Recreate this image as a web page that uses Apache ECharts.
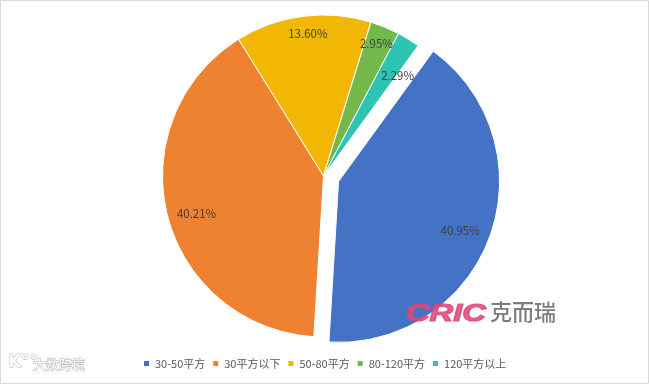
<!DOCTYPE html>
<html><head><meta charset="utf-8">
<script src="https://cdn.jsdelivr.net/npm/echarts@6/dist/echarts.min.js"></script>
<style>html,body{margin:0;padding:0;background:#fff}#c{width:649px;height:384px}</style>
</head><body><div id="c"></div>
<script>
const categories = ['30-50平方','30平方以下','50-80平方','80-120平方','120平方以上'];
const shares = [40.95,40.21,13.60,2.95,2.29];
const colors = ['#4472C4','#EF8230','#F2B705','#72B84B','#2EC4B4'];
const labelShift = [[43,21],[-46,17],[-5,-60],[21,-55],[30,-29]];
const chart = echarts.init(document.getElementById('c'),null,{renderer:'canvas'});
const font = '"Noto Sans CJK SC","Open Sans",sans-serif';
chart.setOption({
  animation:false,
  color:colors,
  legend:{left:137,top:353,itemWidth:7,itemHeight:7,itemGap:6,icon:'rect',
    textStyle:{color:'#595959',fontSize:11,fontFamily:font},
    data:categories},
  graphic:[
    {type:'rect',z:-1,shape:{x:0.5,y:0.5,width:648,height:383},style:{fill:'#fff',stroke:'#d9d9d9',lineWidth:1}},
    {type:'text',x:406,y:303,scaleX:1.42,z:10,style:{text:'CRIC',fill:'rgba(222,70,120,0.85)',stroke:'rgba(222,70,120,0.85)',lineWidth:1.2,font:'italic 900 23px "Liberation Sans"'}},
    {type:'text',x:490,y:301,z:10,style:{text:'克而瑞',fill:'rgba(110,110,110,0.9)',font:'500 22px "Noto Sans CJK SC"'}},
    {type:'text',x:33,y:358,z:10,style:{text:'大数跨境',fill:'#fff',stroke:'#b5b5b5',lineWidth:1,font:'13px "Noto Sans CJK SC"'}},
    {type:'text',x:8,y:354,z:10,style:{text:'K°°',fill:'#fff',stroke:'#b5b5b5',lineWidth:1,font:'bold 17px "DejaVu Sans"'}}
  ],
  series:[{
    type:'pie',center:[323.5,176],radius:[0,161],startAngle:54,clockwise:true,
    selectedMode:'single',selectedOffset:16,avoidLabelOverlap:false,
    itemStyle:{borderColor:'#fff',borderWidth:1},
    label:{show:true,position:'inside',formatter:p=>p.value.toFixed(2)+'%',color:'#404040',fontSize:11.5,fontFamily:font},
    labelLine:{show:false},
    labelLayout:p=>({dx:labelShift[p.dataIndex][0],dy:labelShift[p.dataIndex][1]}),
    emphasis:{disabled:true},
    data:categories.map((n,i)=>({name:n,value:shares[i],selected:i===0}))
  }]
});
</script></body></html>
